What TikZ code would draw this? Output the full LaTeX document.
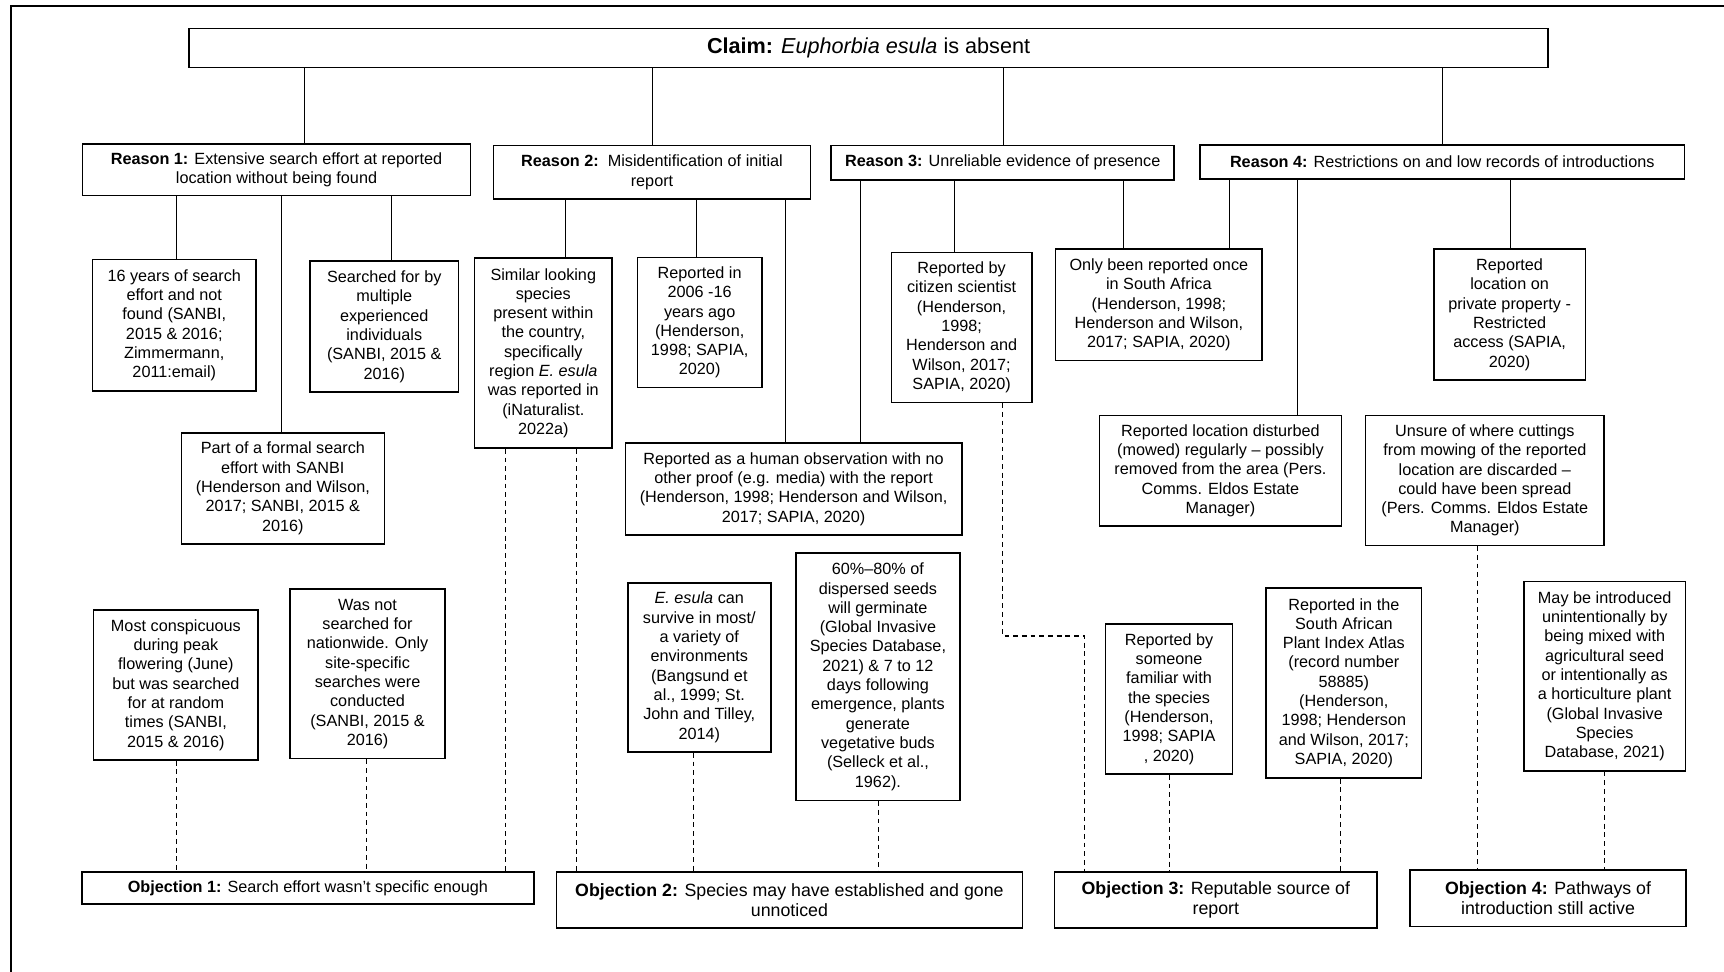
\documentclass[tikz,border=0pt]{standalone}
\usepackage{fontspec}
\setmainfont{Liberation Sans}

\begin{document}
\begin{tikzpicture}[
  box/.style={draw, line width=0.8pt, align=center, inner sep=1pt,
    font=\fontsize{8.4}{10}\selectfont},
  bigbox/.style={box, font=\fontsize{9.2}{10.4}\selectfont},
  sz/.style 2 args={minimum width=#1*0.02cm, minimum height=#2*0.02cm},
  link/.style={line width=0.5pt},
  dlink/.style={line width=0.6pt, dash pattern=on 2.5pt off 2pt}]

 \begin{scope} [x = {(0.02cm,0)},
   y = {(0,-0.02cm)}]

  \useasboundingbox (0,0) rectangle (1568,884);
  \draw[line width=1.2pt] (1600,5.5) -- (10,5.5) -- (10,900);

  % claim and reasons
  \node[box, sz={1236}{35.5}, font=\fontsize{11.2}{13}\selectfont] (claim) at (790,43.75)
    {\textbf{Claim:} \textit{Euphorbia esula} is absent};
  \node[box, sz={353}{47}] (r1) at (251.5,154.5)
    {\textbf{Reason 1:} Extensive search effort at reported\\location without being found};
  \node[box, sz={288}{48.5}] (r2) at (593,156.75)
    {\textbf{Reason 2:}\ \ Misidentification of initial\\report};
  \node[box, sz={312}{31}] (r3) at (912,148)
    {\textbf{Reason 3:} Unreliable evidence of presence};
  \node[box, sz={440.5}{31}] (r4) at (1311.75,147.5)
    {\textbf{Reason 4:} Restrictions on and low records of introductions};

  % evidence
  \node[box, sz={149}{119.5}] (years) at (158.5,295.75)
    {16 years of search\\effort and not\\found (SANBI,\\2015 \& 2016;\\Zimmermann,\\2011:email)};
  \node[box, sz={135}{119}] (searched) at (349.5,297)
    {Searched for by\\multiple\\experienced\\individuals\\(SANBI, 2015 \&\\2016)};
  \node[box, sz={184.5}{101}] (formal) at (257.25,444.15)
    {Part of a formal search\\effort with SANBI\\(Henderson and Wilson,\\2017; SANBI, 2015 \&\\2016)};
  \node[box, sz={125}{172.7}] (similar) at (494.15,321.15)
    {Similar looking\\species\\present within\\the country,\\specifically\\region \textit{E. esula}\\was reported in\\(iNaturalist.\\2022a)};
  \node[box, sz={113}{118.6}] (rep2006) at (636.35,293.3)
    {Reported in\\2006 -16\\years ago\\(Henderson,\\1998; SAPIA,\\2020)};
  \node[box, sz={306}{83.6}] (human) at (721.8,444.8)
    {Reported as a human observation with no\\other proof (e.g. media) with the report\\(Henderson, 1998; Henderson and Wilson,\\2017; SAPIA, 2020)};
  \node[box, sz={127.8}{136.5}] (citizen) at (874.6,297.75)
    {Reported by\\citizen scientist\\(Henderson,\\1998;\\Henderson and\\Wilson, 2017;\\SAPIA, 2020)};
  \node[box, sz={188}{101.3}] (once) at (1054,277.35)
    {Only been reported once\\in South Africa\\(Henderson, 1998;\\Henderson and Wilson,\\2017; SAPIA, 2020)};
  \node[box, sz={138}{118.9}] (private) at (1373,286.15)
    {Reported\\location on\\private property -\\Restricted\\access (SAPIA,\\2020)};
  \node[box, sz={220}{100.4}] (mowed) at (1110,428.2)
    {Reported location disturbed\\(mowed) regularly -- possibly\\removed from the area (Pers.\\Comms. Eldos Estate\\Manager)};
  \node[box, sz={217}{118}] (unsure) at (1350.5,437)
    {Unsure of where cuttings\\from mowing of the reported\\location are discarded --\\could have been spread\\(Pers. Comms. Eldos Estate\\Manager)};

  % counter evidence
  \node[box, sz={149.6}{136.4}] (peak) at (160,623)
    {Most conspicuous\\during peak\\flowering (June)\\but was searched\\for at random\\times (SANBI,\\2015 \& 2016)};
  \node[box, sz={140.6}{154.3}] (notnat) at (334.3,612.85)
    {Was not\\searched for\\nationwide. Only\\site-specific\\searches were\\conducted\\(SANBI, 2015 \&\\2016)};
  \node[box, sz={130}{154}] (survive) at (636,607)
    {\textit{E. esula} can\\survive in most/\\a variety of\\environments\\(Bangsund et\\al., 1999; St.\\John and Tilley,\\2014)};
  \node[box, sz={149}{225}] (seeds) at (798.5,615.5)
    {60\%--80\% of\\dispersed seeds\\will germinate\\(Global Invasive\\Species Database,\\2021) \& 7 to 12\\days following\\emergence, plants\\generate\\vegetative buds\\(Selleck et al.,\\1962).};
  \node[box, sz={115.5}{136.4}] (familiar) at (1063.25,635.8)
    {Reported by\\someone\\familiar with\\the species\\(Henderson,\\1998; SAPIA\\, 2020)};
  \node[box, sz={141.5}{172.6}] (atlas) at (1222.25,621.3)
    {Reported in the\\South African\\Plant Index Atlas\\(record number\\58885)\\(Henderson,\\1998; Henderson\\and Wilson, 2017;\\SAPIA, 2020)};
  \node[box, sz={147}{172}] (horti) at (1459.5,615)
    {May be introduced\\unintentionally by\\being mixed with\\agricultural seed\\or intentionally as\\a horticulture plant\\(Global Invasive\\Species\\Database, 2021)};

  % objections
  \node[box, sz={411}{29}] (obj1) at (280,807.5)
    {\textbf{Objection 1:} Search effort wasn't specific enough};
  \node[bigbox, sz={424}{51}] (obj2) at (718,818.5)
    {\textbf{Objection 2:} Species may have established and gone\\unnoticed};
  \node[bigbox, sz={293.6}{51}] (obj3) at (1105.8,818.5)
    {\textbf{Objection 3:} Reputable source of\\report};
  \node[bigbox, sz={250.9}{51.5}] (obj4) at (1407.95,817.05)
    {\textbf{Objection 4:} Pathways of\\introduction still active};

  \draw[link] (claim.south -| 276.5,0) -- (r1.north -| 276.5,0);
  \draw[link] (claim.south -| 593,0) -- (r2.north -| 593,0);
  \draw[link] (claim.south -| 912.5,0) -- (r3.north -| 912.5,0);
  \draw[link] (claim.south -| 1312,0) -- (r4.north -| 1312,0);

  \draw[link] (r1.south -| 160.5,0) -- (years.north -| 160.5,0);
  \draw[link] (r1.south -| 256,0) -- (formal.north -| 256,0);
  \draw[link] (r1.south -| 355.8,0) -- (searched.north -| 355.8,0);

  \draw[link] (r2.south -| 514,0) -- (similar.north -| 514,0);
  \draw[link] (r2.south -| 633.4,0) -- (rep2006.north -| 633.4,0);
  \draw[link] (r2.south -| 714,0) -- (human.north -| 714,0);

  \draw[link] (r3.south -| 783,0) -- (human.north -| 783,0);
  \draw[link] (r3.south -| 868.4,0) -- (citizen.north -| 868.4,0);
  \draw[link] (r3.south -| 1021.4,0) -- (once.north -| 1021.4,0);

  \draw[link] (r4.south -| 1118,0) -- (once.north -| 1118,0);
  \draw[link] (r4.south -| 1180,0) -- (mowed.north -| 1180,0);
  \draw[link] (r4.south -| 1373.8,0) -- (private.north -| 1373.8,0);

  \draw[dlink] (peak.south -| 160.4,0) -- (obj1.north -| 160.4,0);
  \draw[dlink] (notnat.south -| 333.7,0) -- (obj1.north -| 333.7,0);
  \draw[dlink] (similar.south -| 459.6,0) -- (obj1.north -| 459.6,0);
  \draw[dlink] (similar.south -| 524.3,0) -- (obj2.north -| 524.3,0);
  \draw[dlink] (survive.south -| 630.6,0) -- (obj2.north -| 630.6,0);
  \draw[dlink] (seeds.south -| 798.7,0) -- (obj2.north -| 798.7,0);

  \coordinate (bend) at (912,578.5);
  \draw[dlink] (citizen.south -| bend) -- (bend) -| (obj3.north -| 986.7,0);
  \draw[dlink] (familiar.south -| 1063.7,0) -- (obj3.north -| 1063.7,0);
  \draw[dlink] (atlas.south -| 1219.4,0) -- (obj3.north -| 1219.4,0);
  \draw[dlink] (unsure.south -| 1344,0) -- (obj4.north -| 1344,0);
  \draw[dlink] (horti.south -| 1459.4,0) -- (obj4.north -| 1459.4,0);

 \end{scope}

\end{tikzpicture}
\end{document}
